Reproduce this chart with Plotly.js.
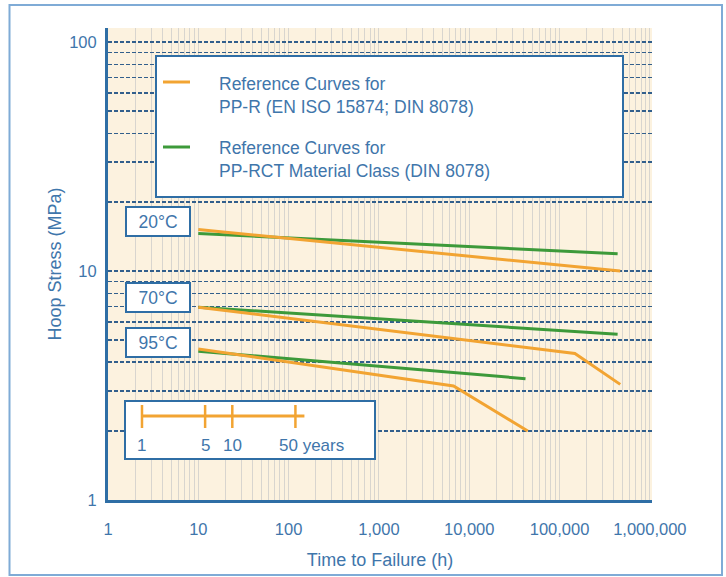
<!DOCTYPE html>
<html>
<head>
<meta charset="utf-8">
<script src="https://cdn.plot.ly/plotly-3.0.1.min.js"></script>
<style>
  html, body { margin: 0; padding: 0; background: #ffffff; }
  #chart { width: 726px; height: 577px; }
</style>
</head>
<body>
<div id="chart"></div>
<script>
// ---------------- data ----------------
// PP-R reference curves (EN ISO 15874; DIN 8078)
const ppr20Time   = [10, 470000];
const ppr20Stress = [15.2, 10.0];
const ppr70Time   = [10, 148000, 470000];
const ppr70Stress = [6.95, 4.37, 3.2];
const ppr95Time   = [10, 6700, 44500];
const ppr95Stress = [4.57, 3.15, 2.0];
// PP-RCT material class (DIN 8078)
const rct20Time   = [10, 440000];
const rct20Stress = [14.6, 11.9];
const rct70Time   = [10, 440000];
const rct70Stress = [6.95, 5.3];
const rct95Time   = [10, 42000];
const rct95Stress = [4.47, 3.39];

const seriesNames = [
  'Reference Curves for<br>PP-R (EN ISO 15874; DIN 8078)',
  'Reference Curves for<br>PP-RCT Material Class (DIN 8078)'
];
const tempLabels = ['20°C', '70°C', '95°C'];

// years scale bar
const years      = [1, 5, 10, 50];
const yearLabels = ['1', '5', '10', '50 years'];

// axis tick labels
const xDecades    = [1, 10, 100, 1000, 10000, 100000, 1000000];
const xTickLabels = ['1', '10', '100', '1,000', '10,000', '100,000', '1,000,000'];
const yDecades    = [1, 10, 100];
const yTickLabels = ['1', '10', '100'];

// ---------------- styling / geometry ----------------
const ORANGE = '#f2a432';
const GREEN  = '#3d9a3a';
const BLUE   = '#2f6ea5';
const TXT    = '#3f76ab';
const FONT   = 'Liberation Sans, Arial, sans-serif';

const L = 108, T = 28, W = 544, H = 472, B = T + H;
const PX = p => (p - L) / W;      // pixel -> paper x
const PY = p => (B - p) / H;      // pixel -> paper y

// log grid: 1..9 per decade
function logGrid(decades, labels) {
  const vals = [], text = [];
  decades.forEach((d, i) => {
    if (i === decades.length - 1) { vals.push(d); text.push(labels[i]); return; }
    for (let m = 1; m <= 9; m++) { vals.push(m * d); text.push(m === 1 ? labels[i] : ''); }
  });
  return { vals, text };
}
const xg = logGrid(xDecades, xTickLabels);
const yg = logGrid(yDecades, yTickLabels);

function curve(x, y, color) {
  return { x, y, type: 'scatter', mode: 'lines', showlegend: false,
           line: { color, width: 3 }, hoverinfo: 'x+y' };
}

const traces = [
  curve(rct20Time, rct20Stress, GREEN),
  curve(rct70Time, rct70Stress, GREEN),
  curve(rct95Time, rct95Stress, GREEN),
  curve(ppr20Time, ppr20Stress, ORANGE),
  curve(ppr70Time, ppr70Stress, ORANGE),
  curve(ppr95Time, ppr95Stress, ORANGE)
];

const barY = PY(416);
const shapes = [
  // outer frame
  { type: 'rect', xref: 'paper', yref: 'paper', x0: PX(9.5), x1: PX(722), y0: PY(575), y1: PY(5),
    line: { color: '#7fabd6', width: 2 }, fillcolor: 'rgba(0,0,0,0)', layer: 'below' },
  // legend box
  { type: 'rect', xref: 'paper', yref: 'paper', x0: PX(156), x1: PX(623), y0: PY(197), y1: PY(56),
    line: { color: BLUE, width: 2 }, fillcolor: '#ffffff', layer: 'above' },
  // years box
  { type: 'rect', xref: 'paper', yref: 'paper', x0: PX(125), x1: PX(375), y0: PY(459), y1: PY(401),
    line: { color: BLUE, width: 2 }, fillcolor: '#ffffff', layer: 'above' },
  // legend samples
  { type: 'line', xref: 'paper', yref: 'paper', x0: PX(163), x1: PX(190), y0: PY(82), y1: PY(82),
    line: { color: ORANGE, width: 3 } },
  { type: 'line', xref: 'paper', yref: 'paper', x0: PX(163), x1: PX(190), y0: PY(147), y1: PY(147),
    line: { color: GREEN, width: 3 } },
  // years scale bar (on the years axis x2)
  { type: 'line', xref: 'x2', yref: 'paper', x0: years[0], x1: years[years.length - 1], y0: barY, y1: barY,
    line: { color: ORANGE, width: 3 } },
  { type: 'line', xref: 'x2', yref: 'paper', xsizemode: 'pixel', xanchor: years[0], x0: -7, x1: 0,
    y0: barY, y1: barY, line: { color: ORANGE, width: 3 } },
  { type: 'line', xref: 'x2', yref: 'paper', xsizemode: 'pixel', xanchor: years[years.length - 1], x0: 0, x1: 9,
    y0: barY, y1: barY, line: { color: ORANGE, width: 3 } }
];
years.forEach(v => {
  shapes.push({ type: 'line', xref: 'x2', yref: 'paper', x0: v, x1: v, y0: PY(428), y1: PY(405),
    line: { color: ORANGE, width: 2.5 } });
});

const annotations = [];
// legend texts
[[seriesNames[0], 95.5], [seriesNames[1], 159.5]].forEach(([t, py]) => {
  annotations.push({ xref: 'paper', yref: 'paper', x: PX(217), y: PY(py), xanchor: 'left', yanchor: 'middle',
    text: t, showarrow: false, align: 'left', font: { family: FONT, size: 17.5, color: TXT } });
});
// temperature label boxes
[221.5, 297.5, 342].forEach((py, i) => {
  annotations.push({ xref: 'paper', yref: 'paper', x: PX(158), y: PY(py), xanchor: 'center', yanchor: 'middle',
    text: tempLabels[i], showarrow: false, bgcolor: '#ffffff', bordercolor: BLUE, borderwidth: 2,
    borderpad: 1, width: 60, height: 25, font: { family: FONT, size: 17.5, color: TXT } });
});
// years scale labels
years.forEach((v, i) => {
  const last = i === years.length - 1;
  annotations.push({ xref: 'x2', yref: 'paper', x: Math.log10(v), y: PY(445), yanchor: 'middle',
    xanchor: last ? 'left' : 'center', xshift: last ? -18 : 0,
    text: yearLabels[i], showarrow: false, font: { family: FONT, size: 17, color: TXT } });
});

const layout = {
  width: 726, height: 577,
  margin: { l: L, r: 726 - L - W, t: T, b: 577 - B, pad: 0 },
  paper_bgcolor: '#ffffff',
  plot_bgcolor: '#fcf2df',
  showlegend: false,
  font: { family: FONT, color: TXT },
  xaxis: {
    type: 'log', range: [0, 6.024], tickmode: 'array', tickvals: xg.vals, ticktext: xg.text,
    showgrid: true, gridcolor: '#d8d5cf', gridwidth: 1, zeroline: false,
    showline: true, linecolor: BLUE, linewidth: 3, ticks: '', ticklabelstandoff: 12,
    tickfont: { family: FONT, size: 16.5, color: TXT },
    title: { text: 'Time to Failure (h)', font: { family: FONT, size: 18, color: TXT }, standoff: 17 }
  },
  yaxis: {
    type: 'log', range: [0, 2.062], tickmode: 'array', tickvals: yg.vals, ticktext: yg.text,
    showgrid: true, gridcolor: '#325f8c', gridwidth: 1.5, griddash: '4px,2px', zeroline: false,
    showline: true, linecolor: BLUE, linewidth: 3, ticks: '', ticklabelstandoff: 5,
    tickfont: { family: FONT, size: 16.5, color: TXT },
    title: { text: 'Hoop Stress (MPa)', font: { family: FONT, size: 18, color: TXT }, standoff: 3 }
  },
  xaxis2: { type: 'log', overlaying: 'x', anchor: 'y2', range: [-(142 - L) / 90.33, -(142 - L) / 90.33 + 6.024],
            visible: false, fixedrange: true },
  yaxis2: { overlaying: 'y', anchor: 'x2', range: [0, 1], visible: false, fixedrange: true },
  shapes, annotations
};

Plotly.newPlot('chart', traces, layout, { displayModeBar: false, staticPlot: true });
</script>
</body>
</html>
